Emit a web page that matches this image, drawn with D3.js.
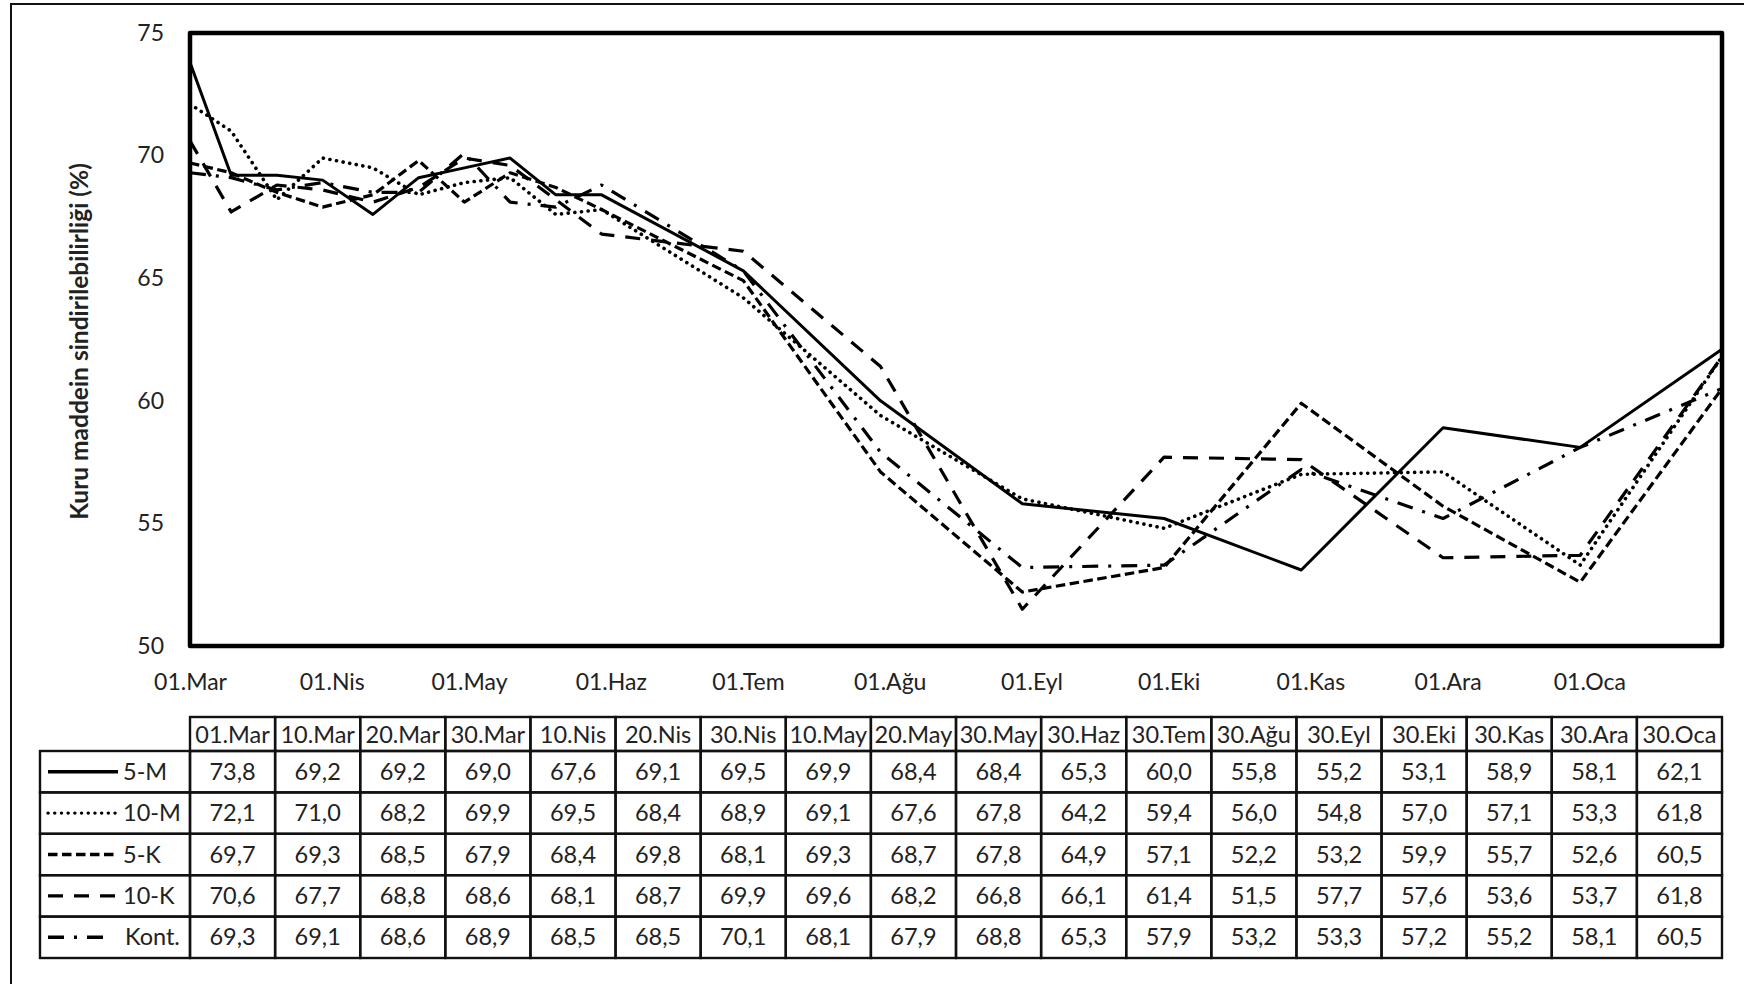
<!DOCTYPE html>
<html>
<head>
<meta charset="utf-8">
<script src="https://cdn.jsdelivr.net/npm/d3@7"></script>
<style>
  html, body { margin: 0; padding: 0; background: #fff; }
  svg { display: block; }
  text { font-family: Lato, "Open Sans", sans-serif; fill: #222; }
</style>
</head>
<body>
<svg id="chart" width="1744" height="984"></svg>
<script>
// Sampling dates (day.month) and Turkish month abbreviations
const monthNames = ["Oca", "Şub", "Mar", "Nis", "May", "Haz", "Tem", "Ağu", "Eyl", "Eki", "Kas", "Ara"];
const sampleLabels = ["01.Mar", "10.Mar", "20.Mar", "30.Mar", "10.Nis", "20.Nis", "30.Nis", "10.May", "20.May",
                      "30.May", "30.Haz", "30.Tem", "30.Ağu", "30.Eyl", "30.Eki", "30.Kas", "30.Ara", "30.Oca"];
const sampleDates = ["2010-03-01", "2010-03-10", "2010-03-20", "2010-03-30", "2010-04-10", "2010-04-20",
                     "2010-04-30", "2010-05-10", "2010-05-20", "2010-05-30", "2010-06-30", "2010-07-30",
                     "2010-08-30", "2010-09-30", "2010-10-30", "2010-11-30", "2010-12-30", "2011-01-30"];

// Dry matter digestibility (%) per treatment
const seriesNames = ["5-M", "10-M", "5-K", "10-K", "Kont."];
const values5M   = [73.8, 69.2, 69.2, 69.0, 67.6, 69.1, 69.5, 69.9, 68.4, 68.4, 65.3, 60.0, 55.8, 55.2, 53.1, 58.9, 58.1, 62.1];
const values10M  = [72.1, 71.0, 68.2, 69.9, 69.5, 68.4, 68.9, 69.1, 67.6, 67.8, 64.2, 59.4, 56.0, 54.8, 57.0, 57.1, 53.3, 61.8];
const values5K   = [69.7, 69.3, 68.5, 67.9, 68.4, 69.8, 68.1, 69.3, 68.7, 67.8, 64.9, 57.1, 52.2, 53.2, 59.9, 55.7, 52.6, 60.5];
const values10K  = [70.6, 67.7, 68.8, 68.6, 68.1, 68.7, 69.9, 69.6, 68.2, 66.8, 66.1, 61.4, 51.5, 57.7, 57.6, 53.6, 53.7, 61.8];
const valuesKont = [69.3, 69.1, 68.6, 68.9, 68.5, 68.5, 70.1, 68.1, 67.9, 68.8, 65.3, 57.9, 53.2, 53.3, 57.2, 55.2, 58.1, 60.5];

const yTicks = [50, 55, 60, 65, 70, 75];
const yTitle = "Kuru maddein sindirilebilirliği (%)";

// Line styles for each treatment
const dashStyles = {
  "5-M":   { dash: null,          cap: "butt",  width: 3.0 },
  "10-M":  { dash: "0.1 6.6",     cap: "round", width: 3.6 },
  "5-K":   { dash: "9.5 4.5",     cap: "butt",  width: 3.2 },
  "10-K":  { dash: "15 11",       cap: "butt",  width: 3.2 },
  "Kont.": { dash: "16 10 3 10",  cap: "butt",  width: 3.2 }
};

const seriesValues = [values5M, values10M, values5K, values10K, valuesKont];
const parseDate = d3.utcParse("%Y-%m-%d");
const dates = sampleDates.map(parseDate);
const series = seriesNames.map((name, i) => ({
  name,
  points: dates.map((d, j) => ({ date: d, value: seriesValues[i][j] }))
}));

const svg = d3.select("#chart");
const W = 1744, H = 984;
const plot = { left: 190, right: 1722, top: 33, bottom: 646 };

// outer frame
svg.append("rect")
  .attr("x", 11).attr("y", 4)
  .attr("width", W + 20).attr("height", H + 20)
  .attr("fill", "none").attr("stroke", "#111").attr("stroke-width", 2);

const x = d3.scaleUtc()
  .domain([dates[0], dates[dates.length - 1]])
  .range([plot.left, plot.right]);
const y = d3.scaleLinear()
  .domain([50, 75])
  .range([plot.bottom, plot.top]);

// y axis labels
const yAxis = svg.append("g")
  .attr("transform", `translate(${plot.left},0)`)
  .call(d3.axisLeft(y).tickValues(yTicks).tickSize(0).tickPadding(26).tickFormat(d3.format("d")));
yAxis.select(".domain").remove();
yAxis.selectAll("text")
  .style("font-family", "Lato, sans-serif")
  .style("font-size", "23px")
  .attr("fill", "#222");

// x axis labels at the first day of each month
const monthTicks = d3.utcMonth.range(dates[0], dates[dates.length - 1]);
const xAxis = svg.append("g")
  .attr("transform", `translate(0,${plot.bottom})`)
  .call(d3.axisBottom(x).tickValues(monthTicks).tickSize(0).tickPadding(28)
    .tickFormat(d => d3.utcFormat("%d")(d) + "." + monthNames[d.getUTCMonth()]));
xAxis.select(".domain").remove();
xAxis.selectAll("text")
  .style("font-family", "Lato, sans-serif")
  .style("font-size", "23px")
  .attr("fill", "#222");

// y axis title
svg.append("text")
  .attr("transform", `translate(78,${(plot.top + plot.bottom) / 2 + 2}) rotate(-90)`)
  .attr("text-anchor", "middle")
  .attr("dominant-baseline", "central")
  .style("font-size", "24.5px")
  .style("font-weight", "bold")
  .text(yTitle);

// series lines
const line = d3.line()
  .x(d => x(d.date))
  .y(d => y(d.value));

svg.append("g")
  .selectAll("path")
  .data(series)
  .join("path")
  .attr("d", d => line(d.points))
  .attr("fill", "none")
  .attr("stroke", "#000")
  .attr("stroke-width", d => dashStyles[d.name].width)
  .attr("stroke-linejoin", "round")
  .attr("stroke-linecap", d => dashStyles[d.name].cap)
  .attr("stroke-dasharray", d => dashStyles[d.name].dash);

// plot frame
svg.append("rect")
  .attr("x", plot.left).attr("y", plot.top)
  .attr("width", plot.right - plot.left).attr("height", plot.bottom - plot.top)
  .attr("fill", "none").attr("stroke", "#000").attr("stroke-width", 4.5)
  .attr("stroke-linejoin", "round");

// data table underneath
const table = { left: 40, colLeft: plot.left, colRight: plot.right, headTop: 717, headBottom: 751, rowH: 41.4 };
const col = d3.scaleBand()
  .domain(d3.range(sampleLabels.length))
  .range([table.colLeft, table.colRight]);
const rowTop = i => table.headBottom + i * table.rowH;
const fmt = d3.formatLocale({ decimal: ",", thousands: ".", grouping: [3], currency: ["", ""] }).format(".1f");

const tg = svg.append("g");

// header cells
tg.selectAll("rect.head")
  .data(sampleLabels)
  .join("rect")
  .attr("class", "head")
  .attr("x", (d, i) => col(i)).attr("y", table.headTop)
  .attr("width", col.bandwidth()).attr("height", table.headBottom - table.headTop)
  .attr("fill", "none").attr("stroke", "#111").attr("stroke-width", 2.4);
tg.selectAll("text.head")
  .data(sampleLabels)
  .join("text")
  .attr("class", "head")
  .attr("x", (d, i) => col(i) + col.bandwidth() / 2)
  .attr("y", (table.headTop + table.headBottom) / 2)
  .attr("text-anchor", "middle")
  .attr("dominant-baseline", "central")
  .style("font-size", "23.5px")
  .text(d => d);

// value rows with legend cell
series.forEach((s, r) => {
  const top = rowTop(r);
  const row = tg.append("g");
  row.append("rect")
    .attr("x", table.left).attr("y", top)
    .attr("width", table.colLeft - table.left).attr("height", table.rowH)
    .attr("fill", "none").attr("stroke", "#111").attr("stroke-width", 2.4);
  row.append("line")
    .attr("x1", 48).attr("x2", s.name === "Kont." ? 110 : 118)
    .attr("y1", top + table.rowH / 2).attr("y2", top + table.rowH / 2)
    .attr("stroke", "#000").attr("stroke-width", 3.4)
    .attr("stroke-linecap", dashStyles[s.name].cap)
    .attr("stroke-dasharray", dashStyles[s.name].dash);
  row.append("text")
    .attr("x", s.name === "Kont." ? 125 : 123)
    .attr("y", top + table.rowH / 2 - 1)
    .attr("dominant-baseline", "central")
    .style("font-size", "23.5px")
    .text(s.name);
  row.selectAll("rect.cell")
    .data(s.points)
    .join("rect")
    .attr("class", "cell")
    .attr("x", (d, i) => col(i)).attr("y", top)
    .attr("width", col.bandwidth()).attr("height", table.rowH)
    .attr("fill", "none").attr("stroke", "#111").attr("stroke-width", 2.4);
  row.selectAll("text.cell")
    .data(s.points)
    .join("text")
    .attr("class", "cell")
    .attr("x", (d, i) => col(i) + col.bandwidth() / 2)
    .attr("y", top + table.rowH / 2 - 1)
    .attr("text-anchor", "middle")
    .attr("dominant-baseline", "central")
    .style("font-size", "23.5px")
    .text(d => fmt(d.value));
});
</script>
</body>
</html>
